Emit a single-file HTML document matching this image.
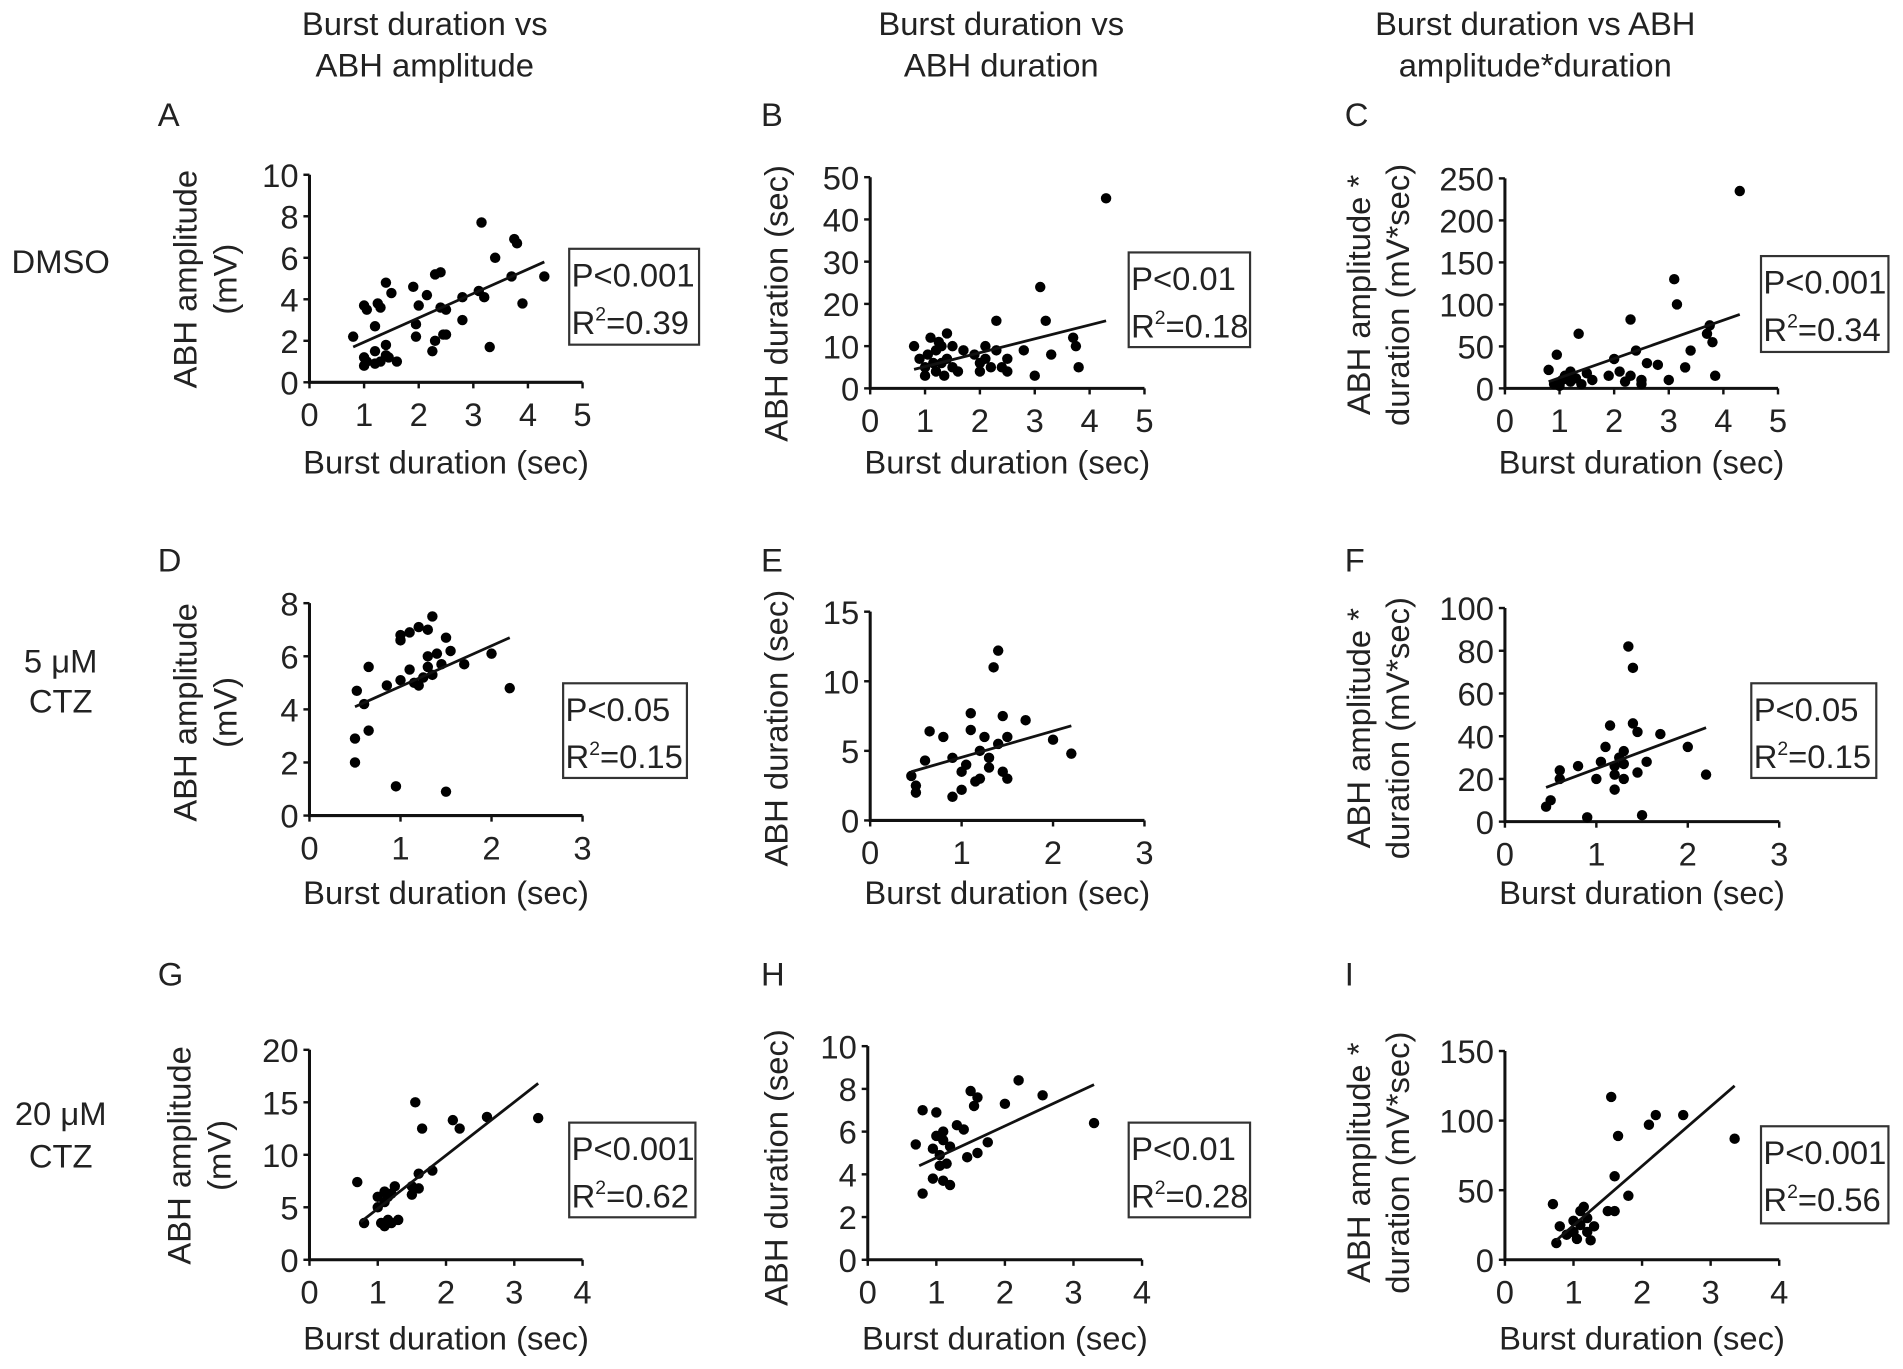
<!DOCTYPE html>
<html><head><meta charset="utf-8">
<style>
html,body{margin:0;padding:0;background:#fff;}
svg{display:block;font-family:"Liberation Sans",Arial,sans-serif;}
text{fill:#222;}
</style></head>
<body>
<svg id="fig" width="1903" height="1369" viewBox="0 0 1568 1128" preserveAspectRatio="none" xmlns="http://www.w3.org/2000/svg">
<g font-size="27" text-anchor="middle">
<text x="350" y="29">Burst duration vs</text>
<text x="350" y="63">ABH amplitude</text>
<text x="825" y="29">Burst duration vs</text>
<text x="825" y="63">ABH duration</text>
<text x="1265" y="29">Burst duration vs ABH</text>
<text x="1265" y="63">amplitude*duration</text>
</g>
<g font-size="27" text-anchor="middle">
<text x="50" y="225">DMSO</text>
<text x="50" y="554">5 μM</text>
<text x="50" y="587">CTZ</text>
<text x="50" y="927">20 μM</text>
<text x="50" y="962">CTZ</text>
</g>
</svg>
<script>
// Panel data arrays
const xA=[0.8,1.0,1.0,1.05,1.0,1.05,1.2,1.2,1.25,1.3,1.3,1.4,1.4,1.4,1.45,1.5,1.6,1.2,1.9,2.0,1.95,1.95,2.15,2.3,2.3,2.25,2.4,2.4,2.5,2.45,2.5,2.8,2.8,3.1,3.15,3.2,3.3,3.4,3.7,3.75,3.8,3.9,4.3];
const yA=[2.2,1.2,0.8,1.0,3.7,3.5,2.7,1.5,3.8,3.6,1.0,4.8,1.8,1.3,1.2,4.3,1.0,0.9,4.6,3.7,2.8,2.2,4.2,5.2,2.0,1.5,5.3,3.6,3.5,2.3,2.3,4.1,3.0,4.4,7.7,4.1,1.7,6.0,5.1,6.9,6.7,3.8,5.1];
const xB=[0.8,0.9,1.0,1.0,1.05,1.1,1.2,1.2,1.25,1.3,1.35,1.4,1.4,1.5,1.5,1.6,1.7,1.9,2.0,2.0,2.1,2.2,2.3,2.3,2.4,2.5,2.5,2.8,3.0,3.1,3.2,3.3,3.7,3.75,3.8,4.3,1.15,1.3,2.1];
const yB=[10,7,5,3,8,12,4,9,11,6,3,13,7,5,10,4,9,8,6,4,10,5,16,9,5,7,4,9,3,24,16,8,12,10,5,45,6,10,7];
const xC=[0.8,0.9,0.95,1.0,1.05,1.1,1.2,1.3,1.35,1.4,1.5,1.6,1.9,2.0,2.1,2.2,2.3,2.3,2.4,2.5,2.5,2.8,3.0,3.1,3.15,3.3,3.4,3.7,3.75,3.8,3.85,4.3,1.2,2.6];
const yC=[22,5,40,3,10,15,8,12,65,5,18,10,15,35,20,8,82,15,45,10,5,28,10,130,100,25,45,65,75,55,15,235,20,30];
const xD=[0.5,0.5,0.52,0.6,0.65,0.65,0.85,0.95,1.0,1.0,1.0,1.1,1.1,1.15,1.2,1.25,1.3,1.3,1.35,1.35,1.4,1.45,1.5,1.5,1.55,1.7,2.0,2.2,1.2,1.3];
const yD=[2.0,2.9,4.7,4.2,5.6,3.2,4.9,1.1,6.8,6.6,5.1,5.5,6.9,5.0,7.1,5.2,7.0,6.0,7.5,5.3,6.1,5.7,6.7,0.9,6.2,5.7,6.1,4.8,4.9,5.6];
const xE=[0.45,0.5,0.5,0.6,0.65,0.8,0.9,0.9,1.0,1.0,1.05,1.1,1.1,1.15,1.2,1.2,1.25,1.3,1.35,1.4,1.4,1.45,1.45,1.5,1.5,1.7,2.0,2.2,1.3];
const yE=[3.2,2.5,2.0,4.3,6.4,6.0,1.7,4.5,2.2,3.5,4.0,6.5,7.7,2.8,3.0,5.0,6.0,4.5,11.0,12.2,5.5,3.5,7.5,3.0,6.0,7.2,5.8,4.8,3.8];
const xF=[0.45,0.5,0.6,0.6,0.8,0.9,1.0,1.05,1.1,1.15,1.2,1.2,1.25,1.3,1.3,1.35,1.4,1.4,1.45,1.45,1.5,1.55,1.7,2.0,2.2,1.3,1.2];
const yF=[7,10,20,24,26,2,20,28,35,45,26,15,30,20,27,82,72,46,42,23,3,28,41,35,22,33,22];
const xG=[0.7,0.8,1.0,1.0,1.05,1.1,1.1,1.15,1.2,1.25,1.2,1.3,1.5,1.5,1.55,1.6,1.6,1.65,1.8,2.1,2.2,2.6,3.35,1.1,1.15];
const yG=[7.4,3.5,6.0,5.0,3.5,3.2,6.5,3.8,6.3,7.0,3.5,3.8,7.0,6.2,15.0,6.8,8.2,12.5,8.5,13.3,12.5,13.6,13.5,5.5,6.0];
const xH=[0.7,0.8,0.8,0.95,0.95,1.0,1.0,1.05,1.1,1.1,1.1,1.15,1.2,1.2,1.3,1.4,1.45,1.5,1.55,1.6,1.6,1.75,2.0,2.2,2.55,3.3,1.05];
const yH=[5.4,3.1,7.0,5.2,3.8,6.9,5.8,4.4,6.0,5.6,3.7,4.5,5.3,3.5,6.3,6.1,4.8,7.9,7.2,5.0,7.6,5.5,7.3,8.4,7.7,6.4,4.9];
const xI=[0.7,0.75,0.8,0.9,1.0,1.0,1.05,1.1,1.1,1.15,1.2,1.25,1.3,1.5,1.55,1.6,1.6,1.65,1.8,2.1,2.2,2.6,3.35,1.2];
const yI=[40,12,24,18,20,28,15,35,25,38,20,14,24,35,117,60,35,89,46,97,104,104,87,30];
// fit lines [x1,y1,x2,y2]
const fitA=[0.8,1.7,4.3,5.8], fitB=[0.8,4.5,4.3,16], fitC=[0.8,8,4.3,88];
const fitD=[0.5,4.1,2.2,6.7], fitE=[0.45,3.5,2.2,6.8], fitF=[0.45,16,2.2,44];
const fitG=[0.75,3.6,3.35,16.8], fitH=[0.75,4.4,3.3,8.2], fitI=[0.75,14,3.35,125];
// tick labels
const xt5=[0,1,2,3,4,5], xt3=[0,1,2,3], xt4=[0,1,2,3,4];
const ytA=[0,2,4,6,8,10], ytB=[0,10,20,30,40,50], ytC=[0,50,100,150,200,250];
const ytD=[0,2,4,6,8], ytE=[0,5,10,15], ytF=[0,20,40,60,80,100];
const ytG=[0,5,10,15,20], ytH=[0,2,4,6,8,10], ytI=[0,50,100,150];

const NS='http://www.w3.org/2000/svg';
const svg=document.getElementById('fig');
const FS=27;
function mk(tag,attrs,parent){const e=document.createElementNS(NS,tag);for(const k in attrs)e.setAttribute(k,attrs[k]);(parent||svg).appendChild(e);return e;}

const panels=[
 {id:'a',L:'A',lx:130,ly:104,x0:255,x1:480,y0:315,y1:144,xt:xt5,yt:ytA,xs:xA,ys:yA,fit:fitA,yl:['ABH amplitude','(mV)'],ylx:[153,186],yly:230,xtY:381,box:[469,205,107,79],p:'P<0.001',r:'0.39'},
 {id:'b',L:'B',lx:627,ly:104,x0:717,x1:943,y0:320,y1:146,xt:xt5,yt:ytB,xs:xB,ys:yB,fit:fitB,yl:['ABH duration (sec)'],ylx:[640],yly:250,xtY:381,box:[930,208,100,78],p:'P<0.01',r:'0.18'},
 {id:'c',L:'C',lx:1108,ly:104,x0:1240,x1:1465,y0:320,y1:147,xt:xt5,yt:ytC,xs:xC,ys:yC,fit:fitC,yl:['ABH amplitude *','duration (mV*sec)'],ylx:[1120,1152],yly:243,xtY:381,box:[1451,211,105,79],p:'P<0.001',r:'0.34'},
 {id:'d',L:'D',lx:130,ly:471,x0:255,x1:480,y0:672,y1:497,xt:xt3,yt:ytD,xs:xD,ys:yD,fit:fitD,yl:['ABH amplitude','(mV)'],ylx:[153,186],yly:587,xtY:736,box:[464,563,102,78],p:'P<0.05',r:'0.15'},
 {id:'e',L:'E',lx:627,ly:471,x0:717,x1:943,y0:676,y1:504,xt:xt3,yt:ytE,xs:xE,ys:yE,fit:fitE,yl:['ABH duration (sec)'],ylx:[640],yly:600,xtY:736,box:null},
 {id:'f',L:'F',lx:1108,ly:471,x0:1240,x1:1466,y0:677,y1:501,xt:xt3,yt:ytF,xs:xF,ys:yF,fit:fitF,yl:['ABH amplitude *','duration (mV*sec)'],ylx:[1120,1152],yly:600,xtY:736,box:[1443,563,103,78],p:'P<0.05',r:'0.15'},
 {id:'g',L:'G',lx:130,ly:812,x0:255,x1:480,y0:1038,y1:865,xt:xt4,yt:ytG,xs:xG,ys:yG,fit:fitG,yl:['ABH amplitude','(mV)'],ylx:[148,181],yly:952,xtY:1103,box:[469,925,104,78],p:'P<0.001',r:'0.62'},
 {id:'h',L:'H',lx:627,ly:812,x0:715,x1:941,y0:1038,y1:862,xt:xt4,yt:ytH,xs:xH,ys:yH,fit:fitH,yl:['ABH duration (sec)'],ylx:[640],yly:962,xtY:1103,box:[930,925,100,78],p:'P<0.01',r:'0.28'},
 {id:'i',L:'I',lx:1108,ly:812,x0:1240,x1:1466,y0:1038,y1:866,xt:xt4,yt:ytI,xs:xI,ys:yI,fit:fitI,yl:['ABH amplitude *','duration (mV*sec)'],ylx:[1120,1152],yly:958,xtY:1103,box:[1451,928,105,80],p:'P<0.001',r:'0.56'}
];

panels.forEach(P=>{
 const g=mk('g',{});
 
 
 const xmax=P.xt[P.xt.length-1], ymax=P.yt[P.yt.length-1];
 const sx=v=>P.x0+(v/xmax)*(P.x1-P.x0);
 const sy=v=>P.y0-(v/ymax)*(P.y0-P.y1);
 const lt=mk('text',{x:P.lx,y:P.ly,'font-size':FS},g);lt.textContent=P.L;
 
 
 const ax=mk('path',{d:`M${P.x0} ${P.y1}V${P.y0}H${P.x1}`,stroke:'#111','stroke-width':2.5,fill:'none'},g);
 
 
 P.xt.forEach(t=>{
  mk('line',{x1:sx(t),x2:sx(t),y1:P.y0,y2:P.y0+5,stroke:'#111','stroke-width':2},g);
  const tx=mk('text',{x:sx(t),y:P.y0+36,'font-size':FS,'text-anchor':'middle'},g);tx.textContent=t;
  
  
 });
 P.yt.forEach(t=>{
  mk('line',{x1:P.x0-5,x2:P.x0,y1:sy(t),y2:sy(t),stroke:'#111','stroke-width':2},g);
  const ty=mk('text',{x:P.x0-9,y:sy(t)+10,'font-size':FS,'text-anchor':'end'},g);ty.textContent=t;
  
  
 });
 const xl=mk('text',{x:(P.x0+P.x1)/2,y:P.xtY+9,'font-size':FS,'text-anchor':'middle'},g);xl.textContent='Burst duration (sec)';
 
 
 P.yl.forEach((s,i)=>{
  const yt=mk('text',{x:0,y:0,'font-size':FS,'text-anchor':'middle',transform:`translate(${P.ylx[i]+9},${P.yly}) rotate(-90)`},g);yt.textContent=s;
  
  
 });
 P.xs.forEach((v,i)=>{
  const c=mk('circle',{cx:sx(v),cy:sy(P.ys[i]),r:4.3,fill:'#000'},g);
  
  
 });
 const f=P.fit;
 const fl=mk('line',{x1:sx(f[0]),y1:sy(f[1]),x2:sx(f[2]),y2:sy(f[3]),stroke:'#111','stroke-width':2.3},g);
 
 
 if(P.box){
  const b=P.box;
  const bg=mk('g',{},g);
  
  
  mk('rect',{x:b[0],y:b[1],width:b[2],height:b[3],fill:'#fff',stroke:'#333','stroke-width':1.8},bg);
  const t1=mk('text',{x:b[0]+2,y:b[1]+31,'font-size':FS},bg);t1.textContent=P.p;
  
  
  const t2=mk('text',{x:b[0]+2,y:b[1]+70,'font-size':FS},bg);
  
  
  t2.appendChild(document.createTextNode('R'));
  const sup=mk('tspan',{'font-size':16,dy:-11},t2);sup.textContent='2';
  const rest=mk('tspan',{dy:11},t2);rest.textContent='='+P.r;
 }
});
</script>
</body></html>
